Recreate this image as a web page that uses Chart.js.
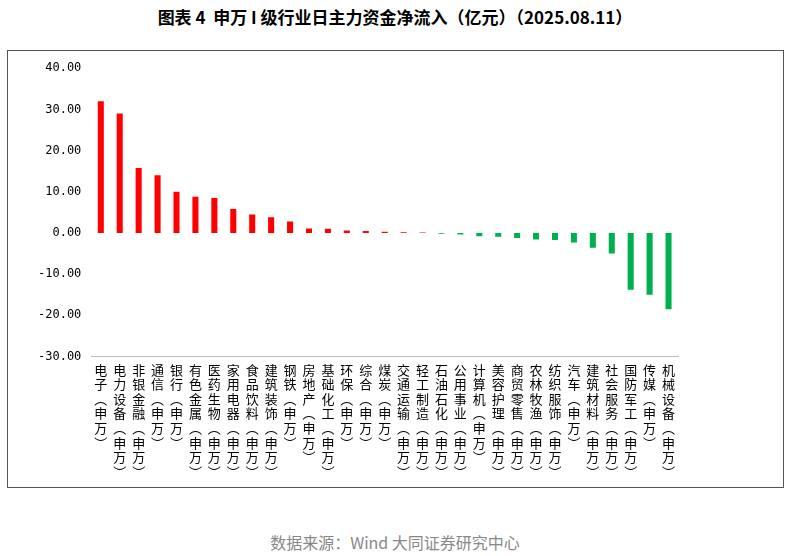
<!DOCTYPE html>
<html><head><meta charset="utf-8">
<script src="https://cdn.jsdelivr.net/npm/chart.js@4/dist/chart.umd.min.js"></script>
<style>
body{margin:0;background:#fff;width:790px;height:556px;position:relative;font-family:"Noto Sans CJK SC";}
#title{position:absolute;top:4px;left:0;width:790px;text-align:center;font-size:17px;font-weight:bold;color:#000;}
#box{position:absolute;left:7px;top:50px;width:775px;height:436px;border:1px solid #555;}
#src{position:absolute;top:530px;left:0;width:790px;text-align:center;font-size:16px;color:#888;}
</style></head><body>
<div id="title">图表 4&nbsp;&nbsp;申万 I 级行业日主力资金净流入（亿元）（2025.08.11）</div>
<div id="box"><canvas id="c" width="775" height="436"></canvas></div>
<div id="src">数据来源：Wind 大同证券研究中心</div>
<script>
const industries = ['电子','电力设备','非银金融','通信','银行','有色金属','医药生物','家用电器','食品饮料','建筑装饰','钢铁','房地产','基础化工','环保','综合','煤炭','交通运输','轻工制造','石油石化','公用事业','计算机','美容护理','商贸零售','农林牧渔','纺织服饰','汽车','建筑材料','社会服务','国防军工','传媒','机械设备'];
const netInflow = [32.0,29.0,15.8,14.0,10.0,8.8,8.5,5.8,4.5,3.8,2.8,1.1,1.0,0.6,0.5,0.3,0.2,0.1,-0.2,-0.4,-0.8,-0.9,-1.2,-1.6,-1.7,-2.3,-3.6,-5.0,-13.8,-15.0,-18.5];
const yTicks = [40,30,20,10,0,-10,-20,-30];

const labels = industries.map(n => (n + '︵申万︶').split(''));
new Chart(document.getElementById('c'), {
  type: 'bar',
  data: { labels: labels, datasets: [{
    data: netInflow,
    backgroundColor: netInflow.map(v => v >= 0 ? '#FF0000' : '#00B050'),
    barPercentage: 0.32, categoryPercentage: 1
  }]},
  options: {
    responsive: false, animation: false,
    layout: { padding: { left: 20, right: 105, top: 13, bottom: 2 } },
    plugins: { legend: { display: false }, tooltip: { enabled: false } },
    scales: {
      y: {
        min: -30, max: 40,
        afterBuildTicks: a => { a.ticks = yTicks.map(v => ({ value: v })); },
        grid: { display: false, drawTicks: false },
        border: { display: false },
        ticks: { color: '#000', padding: 10, font: { family: 'DejaVu Sans Mono', size: 12 }, callback: v => v.toFixed(2) }
      },
      x: {
        grid: { display: false, drawTicks: false },
        border: { color: '#bbb' },
        ticks: { color: '#000', autoSkip: false, maxRotation: 0, padding: 6,
          font: { family: 'Noto Sans CJK SC', size: 13, lineHeight: 1.12 } }
      }
    }
  }
});
</script>
</body></html>
